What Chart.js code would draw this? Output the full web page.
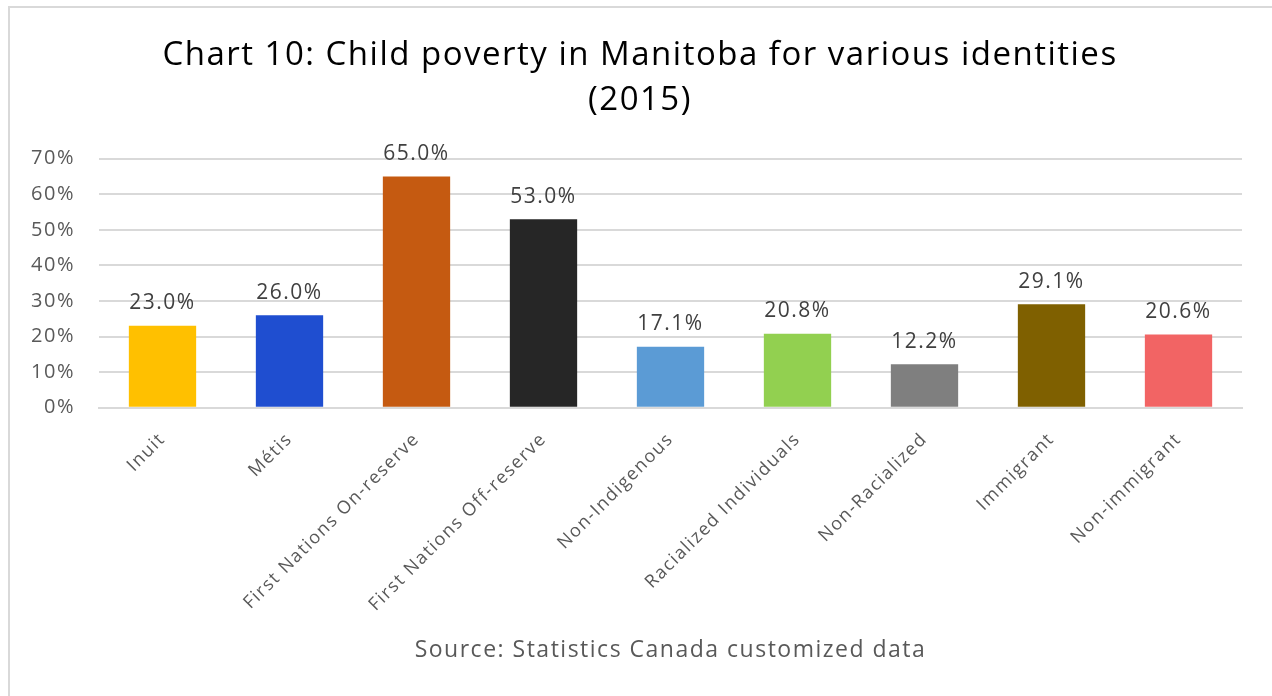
<!DOCTYPE html>
<html>
<head>
<meta charset="utf-8">
<script src="https://cdn.jsdelivr.net/npm/chart.js@4"></script>
<style>
  html, body { margin: 0; padding: 0; background: #fff; }
  #wrap {
    position: relative;
    width: 1272px;
    height: 696px;
    box-sizing: border-box;
  }
  #frame {
    position: absolute;
    left: 8px; top: 6px; right: 0; bottom: 0;
    border-left: 2px solid #d9d9d9;
    border-top: 2px solid #d9d9d9;
    pointer-events: none;
  }
</style>
</head>
<body>
<div id="wrap">
  <canvas id="grafik" width="1272" height="696"></canvas>
  <div id="frame"></div>
</div>
<script>
// data
const kategori = ['Inuit', 'Métis', 'First Nations On-reserve', 'First Nations Off-reserve',
    'Non-Indigenous', 'Racialized Individuals', 'Non-Racialized', 'Immigrant', 'Non-immigrant'];
const nilai = [23.0, 26.0, 65.0, 53.0, 17.1, 20.8, 12.2, 29.1, 20.6];
const warna = ['#FFC000', '#1F4ED0', '#C55A11', '#262626', '#5B9BD5', '#92D050', '#7F7F7F', '#7F6000', '#F26464'];
const yTicks = [0, 10, 20, 30, 40, 50, 60, 70];

const fontUtama = "'Open Sans', sans-serif";
const jarakHuruf = '1.5px'; // teks di gambar asli agak lebar

// set letter spacing sebelum layout & gambar
const spasiTeks = {
    id: 'spasiTeks',
    beforeUpdate(chart) { chart.ctx.letterSpacing = jarakHuruf; },
    beforeDraw(chart) { chart.ctx.letterSpacing = jarakHuruf; },
    // label sumbu y boleh keluar dari kotak sumbu (biar tidak kepotong)
    afterLayout(chart) { chart.scales.y.left = 0; }
};

// label angka di atas batang
const labelBatang = {
    id: 'labelBatang',
    afterDatasetsDraw(chart) {
        const ctx = chart.ctx;
        const meta = chart.getDatasetMeta(0);
        ctx.save();
        ctx.font = '21px ' + fontUtama;
        ctx.fillStyle = '#404040';
        ctx.textAlign = 'center';
        ctx.textBaseline = 'bottom';
        meta.data.forEach(function(bar, i) {
            ctx.fillText(nilai[i].toFixed(1) + '%', bar.x, bar.y - 12);
        });
        ctx.restore();
    }
};

const ctx = document.getElementById('grafik').getContext('2d');
const grafik = new Chart(ctx, {
    type: 'bar',
    data: {
        labels: kategori,
        datasets: [{
            data: nilai,
            backgroundColor: warna,
            barPercentage: 0.53,
            categoryPercentage: 1.0
        }]
    },
    options: {
        responsive: false,
        animation: false,
        layout: {
            padding: { left: 38, right: 30, top: 33, bottom: 32 }
        },
        plugins: {
            legend: { display: false },
            tooltip: { enabled: false },
            title: {
                display: true,
                text: ['Chart 10: Child poverty in Manitoba for various identities', '(2015)'],
                color: '#000000',
                font: { family: fontUtama, size: 33, weight: 'normal', lineHeight: 1.36 },
                padding: { top: 0, bottom: 36 }
            }
        },
        scales: {
            y: {
                min: 0,
                max: 70,
                afterBuildTicks: function(axis) {
                    axis.ticks = yTicks.map(v => ({ value: v }));
                },
                afterFit: function(axis) {
                    axis.width = 61;
                },
                ticks: {
                    color: '#595959',
                    font: { family: fontUtama, size: 20 },
                    padding: 24,
                    callback: v => v + '%'
                },
                grid: { color: '#d9d9d9', lineWidth: 2, drawTicks: false },
                border: { display: false }
            },
            x: {
                ticks: {
                    color: '#595959',
                    font: { family: fontUtama, size: 18 },
                    minRotation: 45,
                    maxRotation: 45,
                    padding: 21
                },
                grid: { display: false, drawTicks: false },
                border: { color: '#d9d9d9', width: 2 },
                title: {
                    display: true,
                    text: 'Source: Statistics Canada customized data',
                    color: '#595959',
                    font: { family: fontUtama, size: 23 },
                    padding: { top: 0, bottom: 0 }
                }
            }
        }
    },
    plugins: [spasiTeks, labelBatang]
});
</script>
</body>
</html>
